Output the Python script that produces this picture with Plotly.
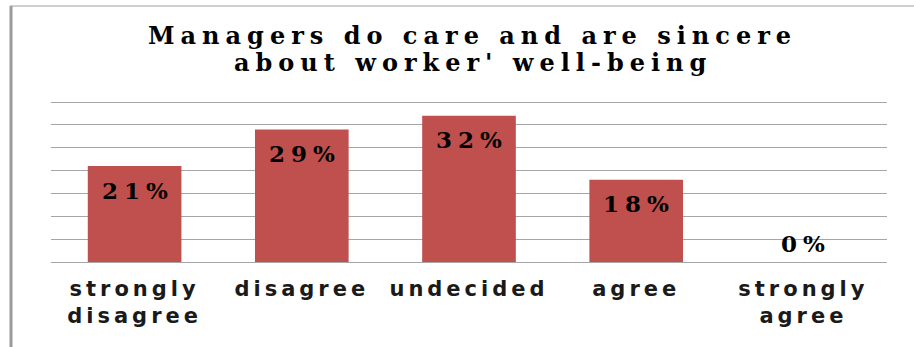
import plotly.graph_objects as go

# Survey responses
categories = ["strongly disagree", "disagree", "undecided", "agree", "strongly agree"]
tick_labels = ["strongly<br>disagree", "disagree", "undecided", "agree", "strongly<br>agree"]
percentages = [21, 29, 32, 18, 0]
grid_values = [0, 5, 10, 15, 20, 25, 30, 35]
title_lines = ["Managers do care and are sincere", "about worker' well-being"]

W, H = 914, 347
BAR_COLOR = "#C0504D"
GRID_COLOR = "#A6A6A6"

# vertical scale: 0 at y=262 px, 5-point grid steps of ~22.86 px
Y_MAX = 35.4
PX_PER_UNIT = 160 / 35
Y_BOTTOM_PX = 262
Y_TOP_PX = Y_BOTTOM_PX - Y_MAX * PX_PER_UNIT


def spaced(text, px):
    return f'<span style="letter-spacing:{px}px">{text}</span>'


def px_x(px):
    return px / W


def px_y(py):
    return 1 - py / H


fig = go.Figure()

fig.add_trace(go.Bar(
    x=categories,
    y=percentages,
    marker=dict(color=BAR_COLOR, line=dict(width=0)),
    hoverinfo="skip",
    showlegend=False,
))

# Percentage labels just inside the top of each bar
for cat, val in zip(categories, percentages):
    fig.add_annotation(
        x=cat, y=val, xref="x", yref="y",
        text=spaced(f"{val}%", 6),
        showarrow=False,
        yanchor="middle",
        yshift=-24 if val > 0 else 19,
        xshift=3,
        font=dict(family="DejaVu Serif", size=23, color="#000000", weight="bold"),
    )

# Two-line chart title
for line, py in zip(title_lines, [35, 63]):
    fig.add_annotation(
        x=px_x(473), y=px_y(py), xref="paper", yref="paper",
        text=spaced(line, 6),
        showarrow=False,
        xanchor="center", yanchor="middle",
        font=dict(family="DejaVu Serif", size=24, color="#000000", weight="bold"),
    )

# Frame lines along the left and top edges
fig.add_shape(type="line", xref="paper", yref="paper",
              x0=px_x(11), x1=px_x(11), y0=px_y(6), y1=0,
              line=dict(color="#9A9A9A", width=3))
fig.add_shape(type="line", xref="paper", yref="paper",
              x0=px_x(10), x1=1, y0=px_y(6), y1=px_y(6),
              line=dict(color="#A0A0A0", width=1))

fig.update_layout(
    width=W, height=H,
    margin=dict(l=0, r=0, t=0, b=0),
    paper_bgcolor="white",
    plot_bgcolor="white",
    bargap=0.44,
    xaxis=dict(
        domain=[px_x(51), px_x(887)],
        tickmode="array",
        tickvals=categories,
        ticktext=[spaced(t, 4) for t in tick_labels],
        tickfont=dict(family="DejaVu Sans", size=21, color="#1A1A1A", weight="bold"),
        ticks="",
        ticklabelstandoff=12,
        showline=False,
        showgrid=False,
        zeroline=False,
    ),
    yaxis=dict(
        domain=[px_y(Y_BOTTOM_PX), px_y(Y_TOP_PX)],
        range=[0, Y_MAX],
        tickmode="array",
        tickvals=grid_values,
        showgrid=True,
        gridcolor=GRID_COLOR,
        gridwidth=1,
        zeroline=True,
        zerolinecolor=GRID_COLOR,
        zerolinewidth=1,
        showticklabels=False,
        ticks="",
        showline=False,
    ),
)

fig.write_html("out.html")
